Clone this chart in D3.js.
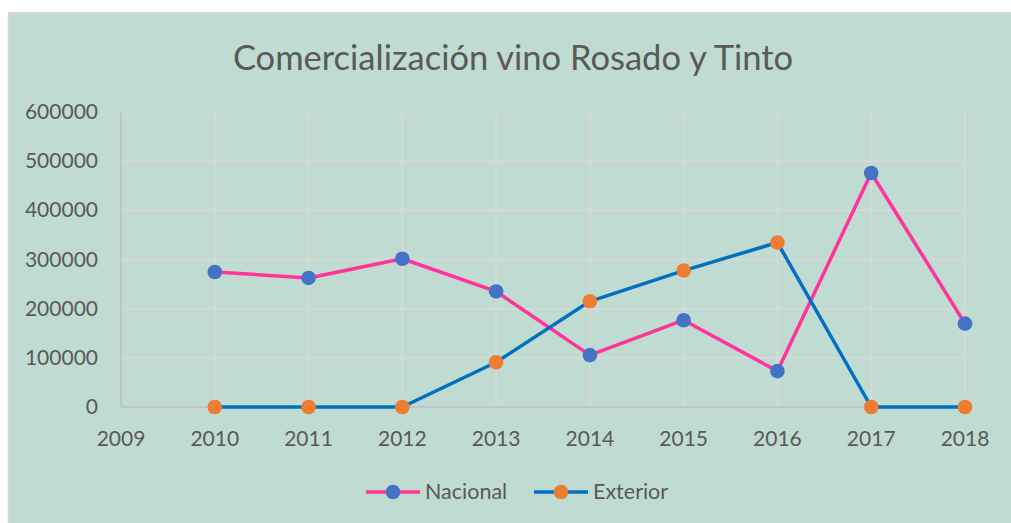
<!DOCTYPE html>
<html>
<head>
<meta charset="utf-8">
<script src="https://cdn.jsdelivr.net/npm/d3@7"></script>
<style>
  body { margin: 0; background: #fff; }
  text { font-family: Lato, "Open Sans", sans-serif; fill: #595959; }
</style>
</head>
<body>
<svg></svg>
<script>
const width = 1011, height = 523;
const margin = {top: 112, right: 46, bottom: 116, left: 121};

const years = [2009, 2010, 2011, 2012, 2013, 2014, 2015, 2016, 2017, 2018];
const nacional = [
  {year: 2010, value: 274600}, {year: 2011, value: 262500}, {year: 2012, value: 301500},
  {year: 2013, value: 235000}, {year: 2014, value: 105500}, {year: 2015, value: 176500},
  {year: 2016, value: 73000}, {year: 2017, value: 476000}, {year: 2018, value: 169500}
];
const exterior = [
  {year: 2010, value: 0}, {year: 2011, value: 0}, {year: 2012, value: 0},
  {year: 2013, value: 91000}, {year: 2014, value: 215000}, {year: 2015, value: 277500},
  {year: 2016, value: 334500}, {year: 2017, value: 0}, {year: 2018, value: 0}
];
const yTicks = [0, 100000, 200000, 300000, 400000, 500000, 600000];

let svg = d3.select("svg").attr("width", width).attr("height", height);

// chart area background
svg.append("rect")
  .attr("x", 8.5).attr("y", 12.5)
  .attr("width", width).attr("height", height)
  .attr("fill", "#c0dbd2")
  .attr("stroke", "#d9d9d9").attr("stroke-width", 1.5);

let x = d3.scaleLinear().domain([2009, 2018]).range([margin.left, width - margin.right]);
let y = d3.scaleLinear().domain([0, 600000]).range([height - margin.bottom, margin.top]);

// gridlines
svg.append("g").selectAll("line").data(yTicks.slice(1)).enter().append("line")
  .attr("x1", x(2009)).attr("x2", x(2018))
  .attr("y1", d => y(d)).attr("y2", d => y(d))
  .attr("stroke", "#d9d9d9").attr("stroke-width", 1.5);
svg.append("g").selectAll("line").data(years.slice(1)).enter().append("line")
  .attr("x1", d => x(d)).attr("x2", d => x(d))
  .attr("y1", y(0)).attr("y2", y(600000))
  .attr("stroke", "#d9d9d9").attr("stroke-width", 1.5);

// axes lines
svg.append("line").attr("x1", x(2009)).attr("x2", x(2018)).attr("y1", y(0)).attr("y2", y(0))
  .attr("stroke", "#bfbfbf").attr("stroke-width", 1.5);
svg.append("line").attr("x1", x(2009)).attr("x2", x(2009)).attr("y1", y(0)).attr("y2", y(600000))
  .attr("stroke", "#bfbfbf").attr("stroke-width", 1.5);

// tick labels
svg.append("g").selectAll("text").data(yTicks).enter().append("text")
  .attr("x", 98).attr("y", d => y(d) + 7)
  .attr("text-anchor", "end").attr("font-size", 21)
  .text(d => d);
svg.append("g").selectAll("text").data(years).enter().append("text")
  .attr("x", d => x(d)).attr("y", 446)
  .attr("text-anchor", "middle").attr("font-size", 21)
  .text(d => d);

// title
svg.append("text").attr("x", 513).attr("y", 70)
  .attr("text-anchor", "middle").attr("font-size", 34.5)
  .text("Comercialización vino Rosado y Tinto");

let line = d3.line().x(d => x(d.year)).y(d => y(d.value));

const series = [
  {name: "Nacional", data: nacional, stroke: "#ff3399", marker: "#4472c4", lx: 366},
  {name: "Exterior", data: exterior, stroke: "#0070c0", marker: "#ed7d31", lx: 534}
];

series.forEach(s => {
  svg.append("path").datum(s.data)
    .attr("d", line).attr("fill", "none")
    .attr("stroke", s.stroke).attr("stroke-width", 3.5)
    .attr("stroke-linejoin", "round");
  svg.append("g").selectAll("circle").data(s.data).enter().append("circle")
    .attr("cx", d => x(d.year)).attr("cy", d => y(d.value))
    .attr("r", 7.3).attr("fill", s.marker);

  // legend
  svg.append("line").attr("x1", s.lx).attr("x2", s.lx + 54).attr("y1", 492).attr("y2", 492)
    .attr("stroke", s.stroke).attr("stroke-width", 3.5);
  svg.append("circle").attr("cx", s.lx + 27).attr("cy", 492).attr("r", 7.3).attr("fill", s.marker);
  svg.append("text").attr("x", s.lx + 59).attr("y", 499).attr("font-size", 21.5).text(s.name);
});
</script>
</body>
</html>
